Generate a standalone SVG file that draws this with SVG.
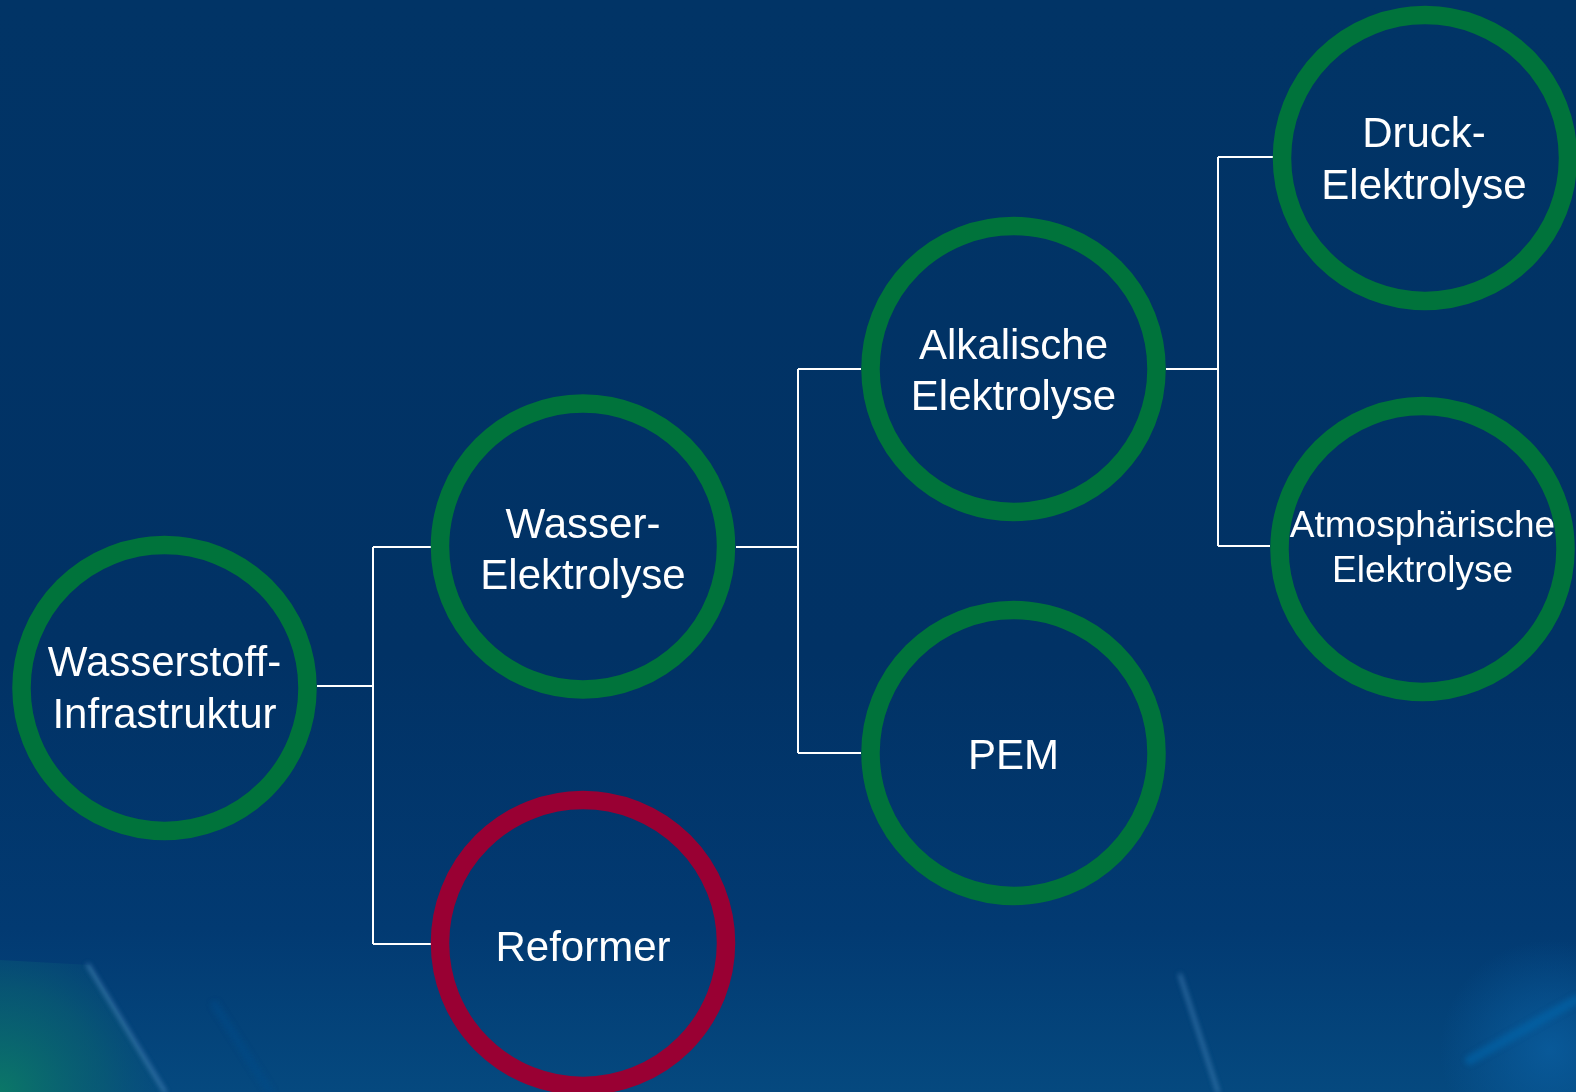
<svg xmlns="http://www.w3.org/2000/svg" width="1576" height="1092" viewBox="0 0 1576 1092">
  <defs>
    <linearGradient id="bgBase" x1="0" y1="0" x2="0" y2="1">
      <stop offset="0" stop-color="#013466"/>
      <stop offset="0.6" stop-color="#013265"/>
      <stop offset="0.85" stop-color="#023a72"/>
      <stop offset="1" stop-color="#05497f"/>
    </linearGradient>
    <radialGradient id="tealGlow" cx="0" cy="1092" r="190" gradientUnits="userSpaceOnUse">
      <stop offset="0" stop-color="#0b7a66" stop-opacity="0.95"/>
      <stop offset="0.55" stop-color="#0a6270" stop-opacity="0.6"/>
      <stop offset="1" stop-color="#0a5080" stop-opacity="0"/>
    </radialGradient>
    <radialGradient id="blueGlow" cx="1550" cy="1050" r="110" gradientUnits="userSpaceOnUse">
      <stop offset="0" stop-color="#0a5ea0" stop-opacity="0.8"/>
      <stop offset="1" stop-color="#0a5ea0" stop-opacity="0"/>
    </radialGradient>
    <filter id="soft" x="-20%" y="-20%" width="140%" height="140%">
      <feGaussianBlur stdDeviation="2.5"/>
    </filter>
    <style>
      .ring { fill: none; stroke-width: 18.5; }
      .green { stroke: #00733b; }
      .red { stroke: #990033; }
      .label { fill: #ffffff; font-family: "Liberation Sans", Arial, sans-serif; font-size: 42px; text-anchor: middle; }
      .small { font-size: 37px; }
      .link { fill: none; stroke: #ffffff; stroke-width: 2; }
    </style>
  </defs>

  <!-- background -->
  <rect width="1576" height="1092" fill="url(#bgBase)"/>
  <path d="M0 960 L90 965 L165 1092 L0 1092 Z" fill="url(#tealGlow)"/>
  <rect width="1576" height="1092" fill="url(#blueGlow)"/>
  <g filter="url(#soft)" fill="none" stroke-linecap="round">
    <path d="M88 965 L165 1092" stroke="#4f8cc0" stroke-width="3" opacity="0.8"/>
    <path d="M215 1005 L270 1092" stroke="#0a4c8a" stroke-width="8" opacity="0.5"/>
    <path d="M1180 975 L1218 1092" stroke="#4f8cc0" stroke-width="3" opacity="0.7"/>
    <path d="M1470 1060 L1576 1000" stroke="#0b68b0" stroke-width="10" opacity="0.5"/>
  </g>

  <!-- connectors -->
  <g id="connectors">
    <path class="link" d="M317 686 H373 M373 547 V944 M373 547 H431 M373 944 H431"/>
    <path class="link" d="M736 547 H798 M798 369 V753 M798 369 H861 M798 753 H861"/>
    <path class="link" d="M1166 369 H1218 M1218 157 V546 M1218 157 H1273 M1218 546 H1270"/>
  </g>

  <g id="wasserstoff-infrastruktur">
    <circle class="ring green" cx="164.5" cy="688" r="143"/>
    <text class="label" x="164.5" y="676">Wasserstoff-</text>
    <text class="label" x="164.5" y="728">Infrastruktur</text>
  </g>

  <g id="wasser-elektrolyse">
    <circle class="ring green" cx="583" cy="546.5" r="143"/>
    <text class="label" x="583" y="538">Wasser-</text>
    <text class="label" x="583" y="589">Elektrolyse</text>
  </g>

  <g id="reformer">
    <circle class="ring red" cx="583" cy="943" r="143"/>
    <text class="label" x="583" y="961">Reformer</text>
  </g>

  <g id="alkalische-elektrolyse">
    <circle class="ring green" cx="1013.5" cy="369" r="143"/>
    <text class="label" x="1013.5" y="359">Alkalische</text>
    <text class="label" x="1013.5" y="410">Elektrolyse</text>
  </g>

  <g id="pem">
    <circle class="ring green" cx="1013.5" cy="753" r="143"/>
    <text class="label" x="1013.5" y="769">PEM</text>
  </g>

  <g id="druck-elektrolyse">
    <circle class="ring green" cx="1425" cy="158" r="143"/>
    <text class="label" x="1424" y="147">Druck-</text>
    <text class="label" x="1424" y="199">Elektrolyse</text>
  </g>

  <g id="atmosphaerische-elektrolyse">
    <circle class="ring green" cx="1422.5" cy="549" r="143"/>
    <text class="label small" x="1422.5" y="537">Atmosphärische</text>
    <text class="label small" x="1422.5" y="582">Elektrolyse</text>
  </g>
</svg>
